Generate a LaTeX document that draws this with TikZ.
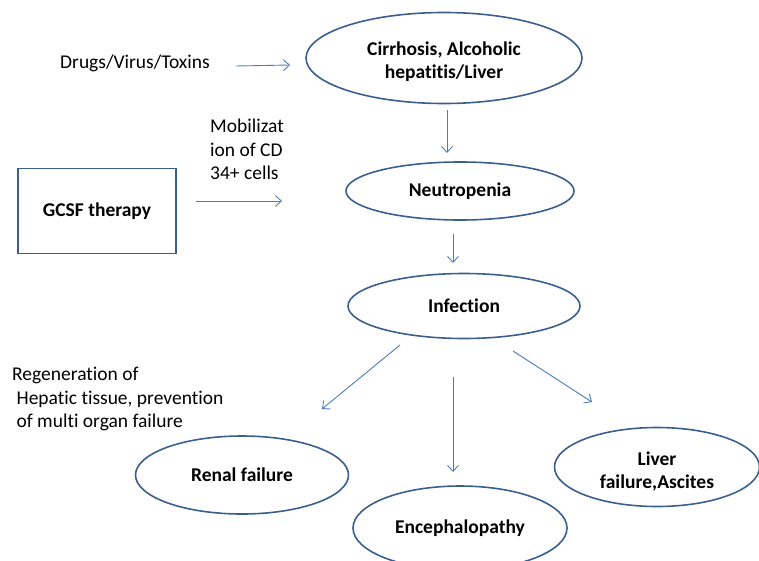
\documentclass[tikz,border=0pt]{standalone}
\usepackage{fontspec}
\setmainfont{Carlito}[Ligatures=NoCommon]
\usetikzlibrary{shapes.geometric,arrows.meta}
\definecolor{edgeblue}{HTML}{3A5F8F}
\definecolor{arrowblue}{HTML}{4A7EBB}
\begin{document}
\begin{tikzpicture}[x=1pt,y=-1pt,
  oval/.style={ellipse,draw=edgeblue,line width=1.6pt,inner sep=0pt,font=\bfseries\fontsize{19.5}{23}\selectfont,align=center},
  plain/.style={font=\fontsize{19.5}{23.5}\selectfont,align=left,inner sep=0pt},
  conn/.style={draw=arrowblue,line width=0.9pt,-{Straight Barb[length=6pt,width=11pt]}}]
\useasboundingbox (0,0) rectangle (759,560);
\node[oval,minimum width=276pt,minimum height=91pt] (cir) at (444,58) {\rule{0pt}{21pt}Cirrhosis, Alcoholic\\hepatitis/Liver};
\node[oval,minimum width=228pt,minimum height=58pt] (neu) at (460,191) {Neutropenia};
\node[oval,minimum width=232pt,minimum height=65pt] (inf) at (464,306) {Infection};
\node[oval,minimum width=213pt,minimum height=78pt] (ren) at (242,475) {Renal failure};
\node[oval,minimum width=214pt,minimum height=84pt] (enc) at (460,528) {Encephalopathy};
\node[oval,minimum width=205pt,minimum height=79pt] (liv) at (657,467) {\rule{0pt}{22pt}Liver\\failure,Ascites};
\node[draw=edgeblue,line width=1.6pt,minimum width=158pt,minimum height=85pt,font=\bfseries\fontsize{19.5}{23}\selectfont] (gcsf) at (97,211) {GCSF therapy};
\node[plain,anchor=center] (drugs) at (135,63) {Drugs/Virus/Toxins};
\node[plain,anchor=north west] (mob) at (210,119) {Mobilizat\\ion of CD\\34+ cells};
\node[plain,anchor=north west] (regen) at (12,367) {Regeneration of\\\ Hepatic tissue, prevention\\\ of multi organ failure};
\coordinate (a1s) at (236,66); \coordinate (a1e) at (290,65);
\coordinate (a2s) at (196,201); \coordinate (a2e) at (282,201);
\coordinate (a3s) at (447,110); \coordinate (a3e) at (447,153);
\coordinate (a4s) at (453,234); \coordinate (a4e) at (453,263);
\coordinate (a5s) at (400,345); \coordinate (a5e) at (322,409);
\coordinate (a6s) at (453,377); \coordinate (a6e) at (453,472);
\coordinate (a7s) at (513,351); \coordinate (a7e) at (592,402);
\draw[conn] (a1s) -- (a1e);
\draw[conn] (a2s) -- (a2e);
\draw[conn] (a3s) -- (a3e);
\draw[conn] (a4s) -- (a4e);
\draw[conn] (a5s) -- (a5e);
\draw[conn] (a6s) -- (a6e);
\draw[conn] (a7s) -- (a7e);
\end{tikzpicture}
\end{document}
